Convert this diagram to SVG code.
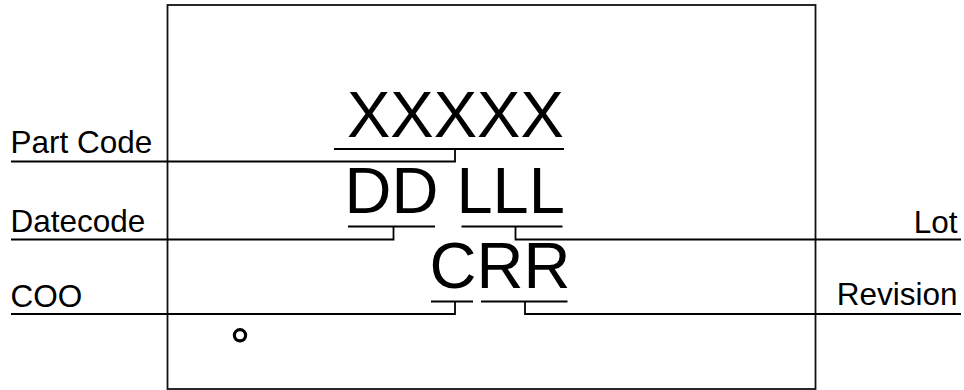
<svg xmlns="http://www.w3.org/2000/svg" width="964" height="390" viewBox="0 0 964 390">
<style>
.ln{fill:none;stroke:#000;stroke-width:1.8}
.lbl{font-family:"Liberation Sans",Arial,sans-serif;font-size:31.5px;fill:#000}
.big{font-family:"Liberation Sans",Arial,sans-serif;font-size:65px;fill:#000}
</style>
<rect width="964" height="390" fill="#fff"/>
<g id="package">
<rect x="167.5" y="5" width="648" height="384" fill="none" stroke="#111" stroke-width="1.8"/>
<circle cx="240" cy="335.3" r="5.6" fill="none" stroke="#000" stroke-width="3.2"/>
</g>
<g id="marking">
<text class="big" x="347" y="136.5">XXXXX</text>
<text class="big" x="344.5" y="213">DD LLL</text>
<text class="big" x="429.5" y="288">CRR</text>
</g>
<g id="labels">
<text class="lbl" x="10.5" y="153.3">Part Code</text>
<text class="lbl" x="10.5" y="231.5">Datecode</text>
<text class="lbl" x="10.5" y="306.5">COO</text>
<text class="lbl" x="957.5" y="233" text-anchor="end">Lot</text>
<text class="lbl" x="957.5" y="305" text-anchor="end">Revision</text>
</g>
<g id="connectors">
<path class="ln" d="M334,149H564M455,149V161.5H11"/>
<path class="ln" d="M348,226.5H435M393.5,226.5V239.5H11"/>
<path class="ln" d="M461.5,226.5H562.5M515.5,226.5V239.5H961"/>
<path class="ln" d="M431,301.5H473M455,301.5V314H11"/>
<path class="ln" d="M481,301.5H567.5M525,301.5V314H961"/>
</g>
</svg>
